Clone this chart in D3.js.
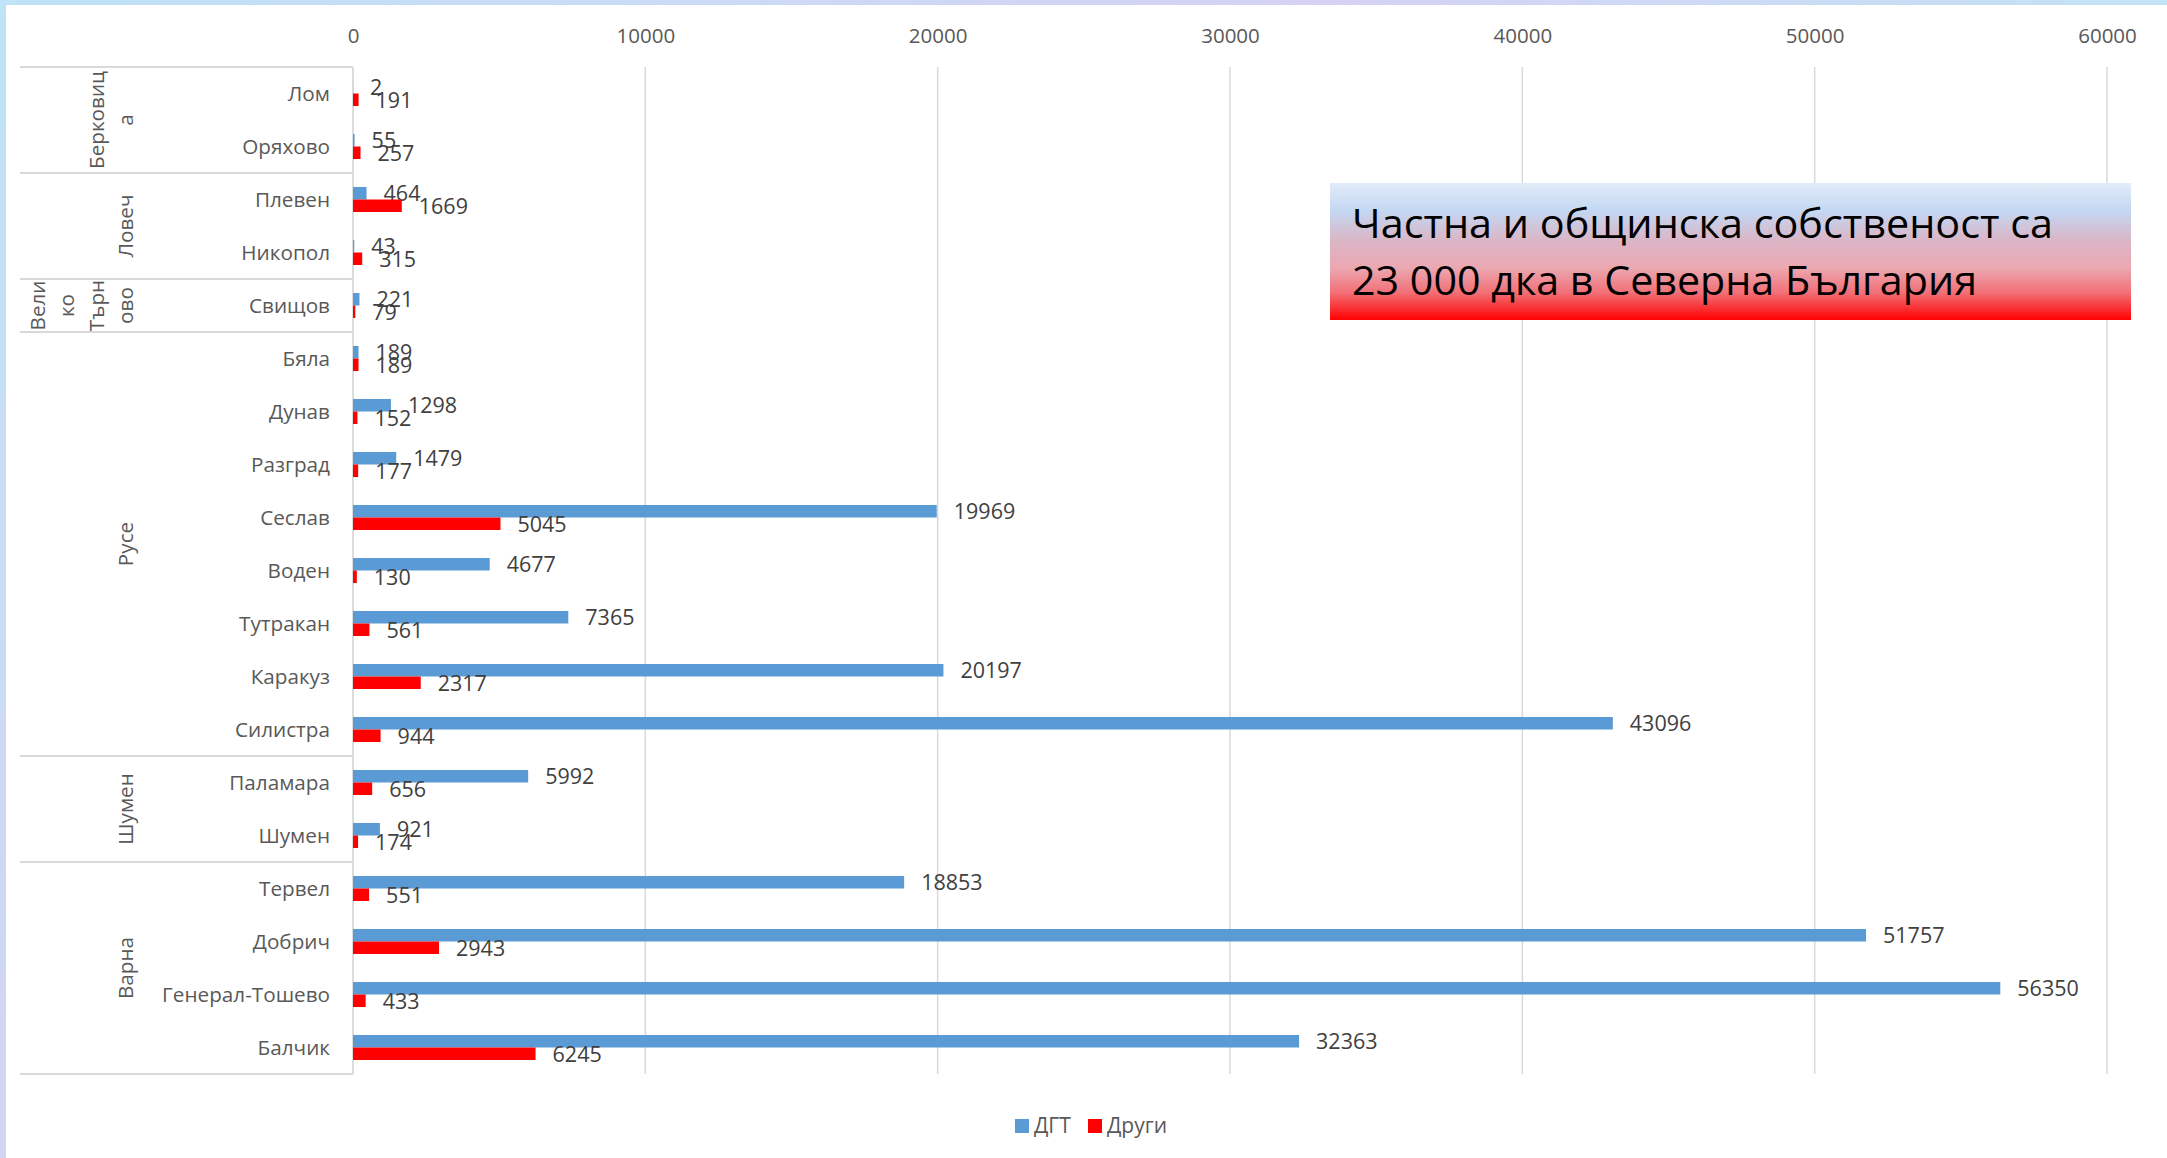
<!DOCTYPE html>
<html><head><meta charset="utf-8">
<script src="https://cdn.jsdelivr.net/npm/d3@7/dist/d3.min.js"></script>
<style>
html,body{margin:0;padding:0;}
body{width:2167px;height:1158px;overflow:hidden;background:linear-gradient(135deg,#bfe3f7,#d6d2f3 40%,#bfe6f7 70%,#d3d0f2);}
svg{display:block;}
text{font-family:"Open Sans","Noto Sans",sans-serif;}
</style></head>
<body>
<svg id="c" width="2167" height="1158"></svg>
<script>
// ---- data ----
const categories = ["Лом","Оряхово","Плевен","Никопол","Свищов","Бяла","Дунав","Разград","Сеслав","Воден","Тутракан","Каракуз","Силистра","Паламара","Шумен","Тервел","Добрич","Генерал-Тошево","Балчик"];
const dgt   = [2,55,464,43,221,189,1298,1479,19969,4677,7365,20197,43096,5992,921,18853,51757,56350,32363];
const drugi = [191,257,1669,315,79,189,152,177,5045,130,561,2317,944,656,174,551,2943,433,6245];
const groups = ["Берковица","Ловеч","Велико Търново","Русе","Шумен","Варна"];
const groupSizes = [2,2,1,8,2,4];
const groupLabelLines = [["Берковиц","а"],["Ловеч"],["Вели","ко","Търн","ово"],["Русе"],["Шумен"],["Варна"]];
const seriesNames = ["ДГТ","Други"];
const seriesColors = ["#5B9BD5","#FF0000"];
const xTicks = [0,10000,20000,30000,40000,50000,60000];
const titleLines = ["Частна и общинска собственост са","23 000 дка в Северна България"];

// ---- layout ----
const svg = d3.select("#c");
const W = 2167, H = 1158;
const plotTop = 67, plotBottom = 1074, x0 = 353, x1 = 2107;

// white panel
svg.append("rect").attr("x",6).attr("y",5).attr("width",W-6).attr("height",H-5).attr("fill","#ffffff");

const x = d3.scaleLinear().domain([0,60000]).range([x0,x1]);
const y = d3.scaleBand().domain(categories).range([plotTop,plotBottom]).paddingInner(0.528).paddingOuter(0.264);
const ys = d3.scaleBand().domain(seriesNames).range([0,y.bandwidth()]);

// gridlines
svg.append("g").selectAll("line").data(xTicks.slice(1)).join("line")
  .attr("x1",d=>x(d)).attr("x2",d=>x(d)).attr("y1",plotTop).attr("y2",plotBottom)
  .attr("stroke","#D9D9D9").attr("stroke-width",1.5);

// top axis labels
const axis = d3.axisTop(x).tickValues(xTicks).tickSize(0).tickPadding(0).tickFormat(d3.format("d"));
const ag = svg.append("g").attr("transform","translate(0,43)").call(axis);
ag.select(".domain").remove();
ag.selectAll("text").attr("font-size",20.5).attr("fill","#595959").attr("font-family","'Open Sans','Noto Sans',sans-serif").attr("dy",0);

// category frame lines
const step = y.step();
let bounds = [plotTop];
let acc = 0;
groupSizes.forEach(s=>{acc+=s; bounds.push(plotTop+acc*step);});
svg.append("g").selectAll("line").data(bounds).join("line")
  .attr("x1",20).attr("x2",x0).attr("y1",d=>d).attr("y2",d=>d)
  .attr("stroke","#D9D9D9").attr("stroke-width",1.8);
svg.append("line").attr("x1",x0).attr("x2",x0).attr("y1",plotTop).attr("y2",plotBottom)
  .attr("stroke","#D9D9D9").attr("stroke-width",1.8);

// group labels (rotated)
groupLabelLines.forEach((lines,i)=>{
  const yc = (bounds[i]+bounds[i+1])/2;
  const n = lines.length;
  lines.forEach((t,j)=>{
    const bx = 133 - (n-1-j)*29.4;
    svg.append("text").attr("transform",`translate(${bx},${yc}) rotate(-90)`)
      .attr("text-anchor","middle").attr("font-size",20.7).attr("fill","#595959").text(t);
  });
});

// category labels
svg.append("g").selectAll("text").data(categories).join("text")
  .attr("x",330).attr("y",d=>y(d)+y.bandwidth()/2).attr("dy","0.36em")
  .attr("text-anchor","end").attr("font-size",20.7).attr("fill","#595959").text(d=>d);

// bars
const seriesData = [dgt, drugi];
seriesData.forEach((vals,si)=>{
  const g = svg.append("g");
  g.selectAll("rect").data(vals).join("rect")
    .attr("x",x(0)).attr("y",(d,i)=>y(categories[i])+ys(seriesNames[si]))
    .attr("width",d=>x(d)-x(0)).attr("height",ys.bandwidth())
    .attr("fill",seriesColors[si]);
  g.selectAll("text").data(vals).join("text")
    .attr("x",d=>x(d)+17).attr("y",(d,i)=>y(categories[i])+ys(seriesNames[si])+ys.bandwidth()/2)
    .attr("dy","0.38em").attr("font-size",21.5).attr("fill","#404040").text(d=>d);
});

// title box
const defs = svg.append("defs");
const grad = defs.append("linearGradient").attr("id","tg").attr("x1",0).attr("y1",0).attr("x2",0).attr("y2",1);
[[0,"#e3ecf9"],[0.2,"#c3d8f3"],[0.42,"#dbb6c6"],[0.62,"#eba8b1"],[0.8,"#f27077"],[1,"#ff0000"]]
  .forEach(s=>grad.append("stop").attr("offset",s[0]).attr("stop-color",s[1]));
svg.append("rect").attr("x",1330).attr("y",183).attr("width",801).attr("height",137).attr("fill","url(#tg)");
const tl = [701, 625];
titleLines.forEach((t,i)=>{
  svg.append("text").attr("x",1352).attr("y",238+i*57)
    .attr("font-family","'Liberation Sans Narrow','DejaVu Sans Condensed','Open Sans',sans-serif")
    .attr("font-size",41).attr("fill","#000").attr("textLength",tl[i]).attr("lengthAdjust","spacingAndGlyphs").text(t);
});

// legend
const lg = svg.append("g");
const lx = [1015, 1088];
seriesNames.forEach((s,i)=>{
  lg.append("rect").attr("x",lx[i]).attr("y",1119).attr("width",14).attr("height",14).attr("fill",seriesColors[i]);
  lg.append("text").attr("x",lx[i]+19).attr("y",1133).attr("font-size",21).attr("fill","#595959").text(s);
});
</script>
</body></html>
